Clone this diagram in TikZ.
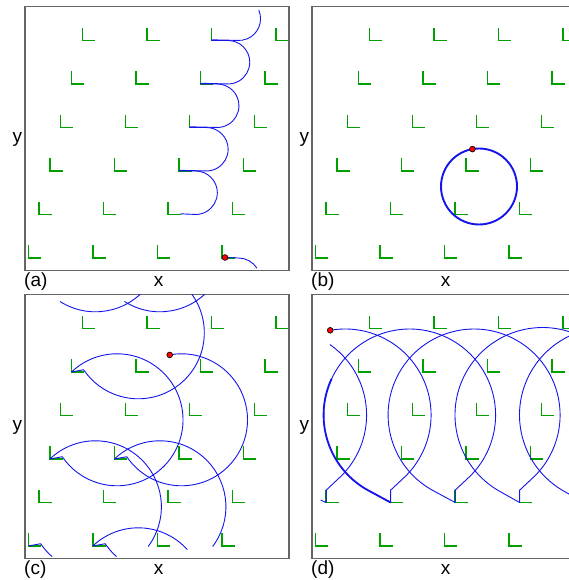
\documentclass[tikz,border=0pt]{standalone}
\usepackage{fontspec}
\setmainfont{Liberation Sans}
\usepackage{xcolor}
\usepackage{tikz}

\definecolor{lgreen}{RGB}{0,160,0}
\definecolor{trajblue}{RGB}{20,20,235}

\begin{document}
\begin{tikzpicture}[
    x=1pt, y=-1pt,
    panelframe/.style={draw=black!60, line width=1.1pt},
    lmark/.style={draw=lgreen, line width=1.4pt},
    traj/.style={draw=trajblue, line width=0.9pt, line join=round},
    startdot/.style={circle, draw=black, fill=red, line width=0.6pt, inner sep=0pt, minimum size=5.8pt},
    paneltag/.style={font=\fontsize{19}{22}\selectfont, inner sep=0pt},
]
\useasboundingbox (0,0) rectangle (569,580);
\foreach \px/\py/\tag in {0/0/a, 287/0/b, 0/288/c, 287/288/d} {
  \begin{scope}[shift={(\px,\py)}]
    \foreach \r in {0,...,5}
      \foreach \c in {0,...,3}
        \draw[lmark] ({82.3-10.8*\r+64.5*\c},{27.8+43.5*\r}) |- ++(12.7,12.7);
    \draw[panelframe] (25,6.7) rectangle (289,270.7);
    \node[paneltag, anchor=west] (tag-\tag) at (24,281.5) {(\tag)};
    \node[paneltag] (xlab-\tag) at (158.5,281.7) {x};
    \node[paneltag] (ylab-\tag) at (17.3,139.7) {y};
  \end{scope}
}

% (a)
\begin{scope}
  \clip (25,6.7) rectangle (289,270.7);
  \draw[traj] (238.8,18.75) ++(337:21.75) arc[start angle=337, end angle=456, radius=21.75] -- (211.3,39.8);
  \foreach \r/\e in {0/0, 1/0, 2/0, 3/12.4}
    \draw[traj] ({211.3-10.8*\r},{40.5+43.5*\r}) -- ++(16.7,0) arc[start angle=270, end angle=456, radius=21.75] -- ({200.5-10.8*\r+\e},{83.3+43.5*\r});
  \draw[traj] (225,257.5) -- (238.5,258) arc[start angle=270, end angle=328, radius=21.75];
  \node[startdot] (start-a) at (225,257.5) {};
\end{scope}

% (b)
\begin{scope}[shift={(287,0)}]
  \draw[traj, line width=1.9pt] (192,186.5) circle[radius=38];
  \node[startdot] (start-b) at (185.4,149.1) {};
\end{scope}

% (c)
\begin{scope}[shift={(0,288)}]
  \clip (25,6.7) rectangle (289,270.7);
  \draw[traj] (181.5,131.8) ++(259.7:66) arc[start angle=259.7, end angle=506, radius=66] -- (114.4,171);
  \draw[traj] (114.4,171) arc[start angle=226.4, end angle=397, radius=66];
  \draw[traj] (159.9,-42.2) ++(38:66) arc[start angle=38, end angle=122.5, radius=66];
  \draw[traj] (159.9,218.8) ++(131:66) arc[start angle=131, end angle=146, radius=66] -- (92.8,258);
  \draw[traj] (92.8,258) arc[start angle=226.4, end angle=318, radius=66];
  \draw[traj] (138.3,44.8) ++(318:66) arc[start angle=318, end angle=506, radius=66] -- (71.5,84);
  \draw[traj] (71.5,84) arc[start angle=226.4, end angle=506, radius=66] -- (49.9,171);
  \draw[traj] (49.9,171) arc[start angle=226.4, end angle=397, radius=66];
  \draw[traj] (95.4,-42.2) ++(38:66) arc[start angle=38, end angle=122.5, radius=66];
  \draw[traj] (95.4,218.8) ++(131:66) arc[start angle=131, end angle=146, radius=66] -- (28.3,258);
  \node[startdot] (start-c) at (169.7,66.9) {};
\end{scope}

% (d)
\begin{scope}[shift={(287,288)}]
  \clip (25,6.7) rectangle (289,270.7);
  \draw[traj] (-6.4,127) ++(305:86) arc[start angle=305, end angle=405, radius=86] -- (39.1,202.2) -- (39.1,214.5) -- (33.5,212);
  \draw[traj] (58.1,127) ++(260:86) arc[start angle=260, end angle=405, radius=86] -- (103.6,202.2) -- (103.6,214.5);
  \foreach \k in {1,2}
    \draw[traj] ({39.1+64.5*\k},214.5) -- ({15.1+64.5*\k},201.5) arc[start angle=120, end angle=405, radius=86] -- ({103.6+64.5*\k},202.2) -- ({103.6+64.5*\k},214.5);
  \draw[traj] (232.6,214.5) -- (211.75,202.8) arc[start angle=120, end angle=405, radius=87.5];
  \draw[traj] (297.1,214.5) -- (276.25,202.8) arc[start angle=120, end angle=300, radius=87.5];
  \draw[traj, line width=1.8pt] (103.6,214.5) -- (79.6,201.5) arc[start angle=120, end angle=205, radius=86];
  \node[startdot] (start-d) at (43.2,42.3) {};
\end{scope}
\end{tikzpicture}
\end{document}
